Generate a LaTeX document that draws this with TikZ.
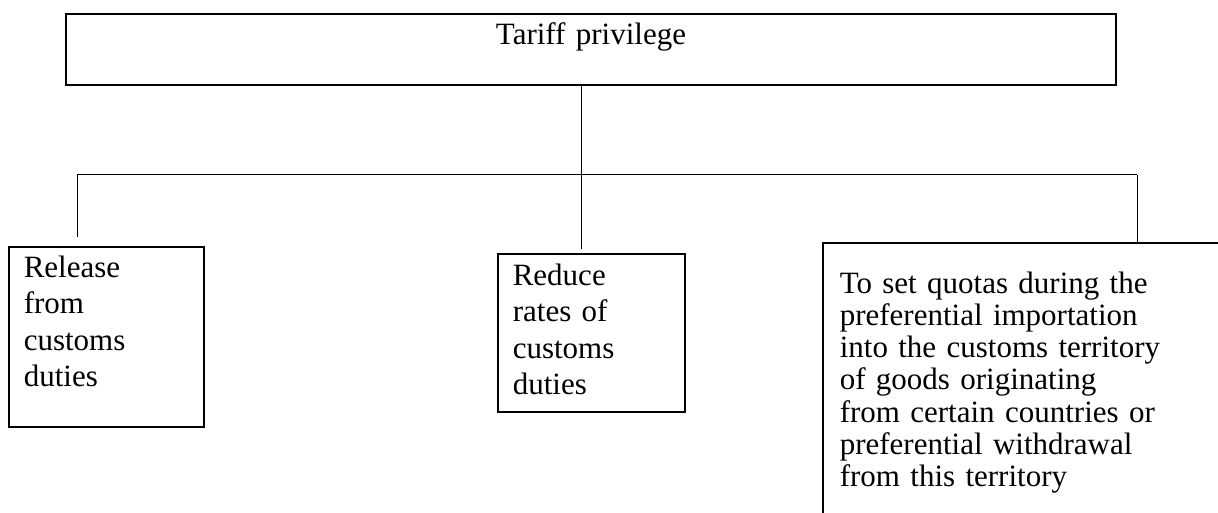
\documentclass[tikz,border=0pt]{standalone}
\usepackage{fontspec}
\setmainfont{Liberation Serif}
\tikzset{
	box/.style={draw, line width=1.6pt, rectangle, inner ysep=0pt, align=left},
	conn/.style={line width=1pt},
}
\begin{document}
\begin{tikzpicture}[x=1pt,y=-1pt]
		\tikzstyle{every node}=[font=\fontsize{31}{36.5}\selectfont]
		\clip (0,0) rectangle (1218,513);
		\fill[white] (0,0) rectangle (1218,513);
		% top box
		\node[box, anchor=base, text width=1050pt, inner xsep=0pt, align=center, text height=31pt, text depth=40pt] (tariff) at (591,45) {Tariff privilege};
		% the three kinds
		\node[box, anchor=base west, inner xsep=15pt, text width=165pt, text height=30pt, text depth=150pt] (release) at (8,277) {Release\\from\\customs\\duties};
		\node[box, anchor=base west, inner xsep=15pt, text width=157pt, text height=31pt, text depth=127pt] (reduce) at (497,285) {Reduce\\rates of\\customs\\duties};
		\node[box, anchor=base west, inner xsep=17pt, text width=400pt, text height=50pt, text depth=260pt, font=\fontsize{31}{32.3}\selectfont] (quotas) at (822,293) {To set quotas during the\\preferential importation\\into the customs territory\\of goods originating\\from certain countries or\\preferential withdrawal\\from this territory};
		% connectors
		\coordinate (hub) at (581,175);
		\coordinate (lend) at (77,175);
		\coordinate (rend) at (1137,175);
		\draw[conn] (tariff.south -| hub) -- (hub);
		\draw[conn] (lend) -- (rend);
		\draw[conn,shorten >=9pt] (lend) -- (lend |- release.north);
		\draw[conn,shorten >=4pt] (hub) -- (hub |- reduce.north);
		\draw[conn] (rend) -- (rend |- quotas.north);
\end{tikzpicture}
\end{document}
